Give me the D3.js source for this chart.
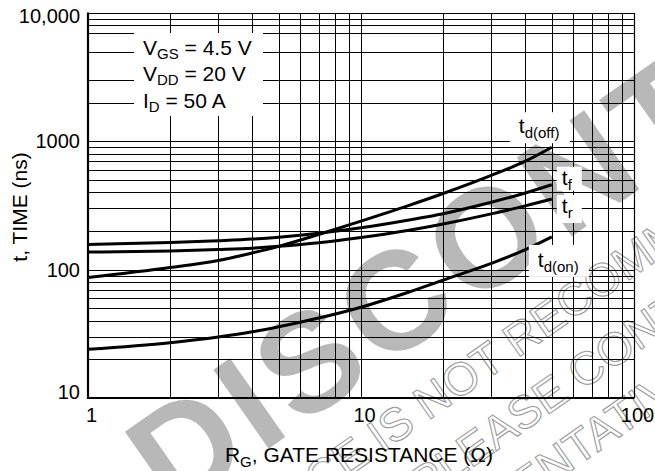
<!DOCTYPE html>
<html><head><meta charset="utf-8">
<script src="https://cdn.jsdelivr.net/npm/d3@7"></script>
<style>
html,body{margin:0;padding:0;background:#fff;}
svg{display:block;font-family:"Liberation Sans",Arial,Helvetica,sans-serif;}
</style></head><body>
<svg id="chart" width="655" height="471"></svg>
<script>
// ---- data ----
const rg    = [1, 2, 3, 4, 5, 7, 10, 15, 20, 30, 40, 50];
const tdOff = [87, 104, 118, 135, 152, 188, 239, 317, 392, 542, 700, 900];
const tf    = [157, 162.6, 168, 173, 179, 192, 212, 244, 273, 335, 396, 459];
const tr    = [137, 140, 143.5, 147, 152, 162, 178, 203, 227, 272, 314, 355];
const tdOn  = [24, 27, 29.9, 32.8, 35.9, 42, 51, 67, 83, 112, 143, 180];

const xTickValues = [1, 10, 100];
const xTickLabels = ["1", "10", "100"];
const yTickValues = [10, 100, 1000, 10000];
const yTickLabels = ["10", "100", "1000", "10,000"];
const xGridValues = [2,3,4,5,6,7,8,9,20,30,40,50,60,70,80,90];
const yGridValues = [20,30,40,50,60,70,80,90,200,300,400,500,600,700,800,900,2000,3000,5000,7000,8000,9000];

const conditions = [["V","GS"," = 4.5 V"],["V","DD"," = 20 V"],["I","D"," = 50 A"]];
const seriesNames = [["t","d(off)"],["t","f"],["t","r"],["t","d(on)"]];
const xTitle = ["R","G",", GATE RESISTANCE (\u03A9)"];
const yTitle = "t, TIME (ns)";
const watermark = "DISCONTINUED";
const noticeLines = ["THIS DEVICE IS NOT RECOMMENDED FOR NEW DESIGN.",
                     "PLEASE CONTACT YOUR ON SEMICONDUCTOR",
                     "REPRESENTATIVE FOR INFORMATION"];

// ---- chart ----
const svg = d3.select("#chart");
const L = 88, R = 634, T = 13, B = 398;
const x = d3.scaleLog().domain([1, 100]).range([L, R]);
const y = d3.scaleLog().domain([10, 10000]).range([B, T]);
const px = v => Math.round(v) + 0.5;

// watermark layer (under everything)
const wm = svg.append("g");
function placeText(g, str, idx, cx, cy, ang, size, style) {
  const grp = g.append("g").attr("transform", `translate(${cx},${cy}) rotate(${ang})`);
  const t = grp.append("text").attr("x", 0).attr("y", 0).attr("font-size", size).text(str);
  style(t);
  const n = t.node();
  const s = n.getStartPositionOfChar(idx).x, e = n.getEndPositionOfChar(idx).x;
  t.attr("x", -(s + e) / 2).attr("y", 0.358 * size);
}
placeText(wm, watermark, 0, 188, 444, -35, 140, t => t.attr("fill", "#b8b8b8").attr("font-weight", "bold").attr("letter-spacing", 7));
const outline = t => t.attr("fill", "none").attr("stroke", "#9c9c9c").attr("stroke-width", 1.1);
placeText(wm, noticeLines[0], noticeLines[0].indexOf("NOT"), 432, 398, -35, 46, outline);
placeText(wm, noticeLines[1], noticeLines[1].indexOf("CONT"), 586, 368, -35, 46, outline);
placeText(wm, noticeLines[2], 8, 578, 446, -35, 46, outline);

// grid
const grid = svg.append("g").attr("stroke", "#000").attr("stroke-width", 1);
grid.selectAll("line.v").data(xGridValues.concat([10])).join("line")
  .attr("x1", d => px(x(d))).attr("x2", d => px(x(d))).attr("y1", T).attr("y2", B);
grid.selectAll("line.h").data(yGridValues.concat([100, 1000])).join("line")
  .attr("y1", d => px(y(d))).attr("y2", d => px(y(d))).attr("x1", L).attr("x2", R);

// white box for conditions
svg.append("rect").attr("x", 134).attr("y", 33).attr("width", 129).attr("height", 83).attr("fill", "#fff");

// frame
svg.append("line").attr("x1", L).attr("x2", R).attr("y1", px(T)).attr("y2", px(T)).attr("stroke", "#000").attr("stroke-width", 1.2);
svg.append("line").attr("x1", px(R)).attr("x2", px(R)).attr("y1", T).attr("y2", B).attr("stroke", "#000").attr("stroke-width", 1.2);
svg.append("line").attr("x1", L).attr("x2", L).attr("y1", T - 0.5).attr("y2", B + 1).attr("stroke", "#000").attr("stroke-width", 2.2);
svg.append("line").attr("x1", L - 1).attr("x2", R + 0.5).attr("y1", B).attr("y2", B).attr("stroke", "#000").attr("stroke-width", 2.2);

// axes labels
const xAxis = svg.append("g").attr("transform", `translate(0,${B})`)
  .call(d3.axisBottom(x).tickValues(xTickValues).tickFormat((d, i) => xTickLabels[i]).tickSize(0).tickPadding(10));
xAxis.select(".domain").remove();
xAxis.selectAll("text").attr("font-size", 20).attr("font-family", null).attr("fill", "#000").attr("dx", 3);

const yAxis = svg.append("g").attr("transform", `translate(${L},0)`)
  .call(d3.axisLeft(y).tickValues(yTickValues).tickFormat((d, i) => yTickLabels[i]).tickSize(0).tickPadding(8));
yAxis.select(".domain").remove();
yAxis.selectAll("text").attr("font-size", 20).attr("font-family", null).attr("fill", "#000")
  .attr("y", d => d === 10 ? -6 : (d === 10000 ? 3 : 0));

// curves
const series = [tdOff, tf, tr, tdOn];
const line = d3.line().x((d, i) => x(rg[i])).y(d => y(d)).curve(d3.curveMonotoneX);
svg.append("g").selectAll("path").data(series).join("path")
  .attr("d", d => line(d)).attr("fill", "none").attr("stroke", "#000").attr("stroke-width", 3);

// curve labels with white boxes
const last = rg.length - 1;
const labelSpec = [
  {bx: -42, by: -35, bw: 60, bh: 31, tx: -33, ty: -14},
  {bx: 5,   by: -18, bw: 25, bh: 24, tx: 10,  ty: 0},
  {bx: 5,   by: -4,  bw: 25, bh: 28, tx: 10,  ty: 14},
  {bx: -23, by: 8,   bw: 60, bh: 32, tx: -14, ty: 30}
];
const lab = svg.append("g");
series.forEach((s, k) => {
  const ex = x(rg[last]), ey = y(s[last]), sp = labelSpec[k];
  lab.append("rect").attr("x", ex + sp.bx).attr("y", ey + sp.by).attr("width", sp.bw).attr("height", sp.bh).attr("fill", "#fff");
  const t = lab.append("text").attr("x", ex + sp.tx).attr("y", ey + sp.ty).attr("font-size", 21);
  t.append("tspan").text(seriesNames[k][0]);
  t.append("tspan").attr("font-size", 15).attr("dy", 5).text(seriesNames[k][1]);
});

// conditions text
conditions.forEach((c, i) => {
  const t = svg.append("text").attr("x", 143).attr("y", 54.5 + i * 26.5).attr("font-size", 21);
  t.append("tspan").text(c[0]);
  t.append("tspan").attr("font-size", 15).attr("dy", 4).text(c[1]);
  t.append("tspan").attr("dy", -4).text(c[2]);
});

// axis titles
const xt = svg.append("text").attr("x", 359).attr("y", 461.5).attr("font-size", 21).attr("text-anchor", "middle");
xt.append("tspan").text(xTitle[0]);
xt.append("tspan").attr("font-size", 15).attr("dy", 5).text(xTitle[1]);
xt.append("tspan").attr("dy", -5).text(xTitle[2]);

svg.append("text").attr("transform", "translate(27,207) rotate(-90)").attr("text-anchor", "middle")
  .attr("font-size", 21).text(yTitle);
</script>
</body></html>
